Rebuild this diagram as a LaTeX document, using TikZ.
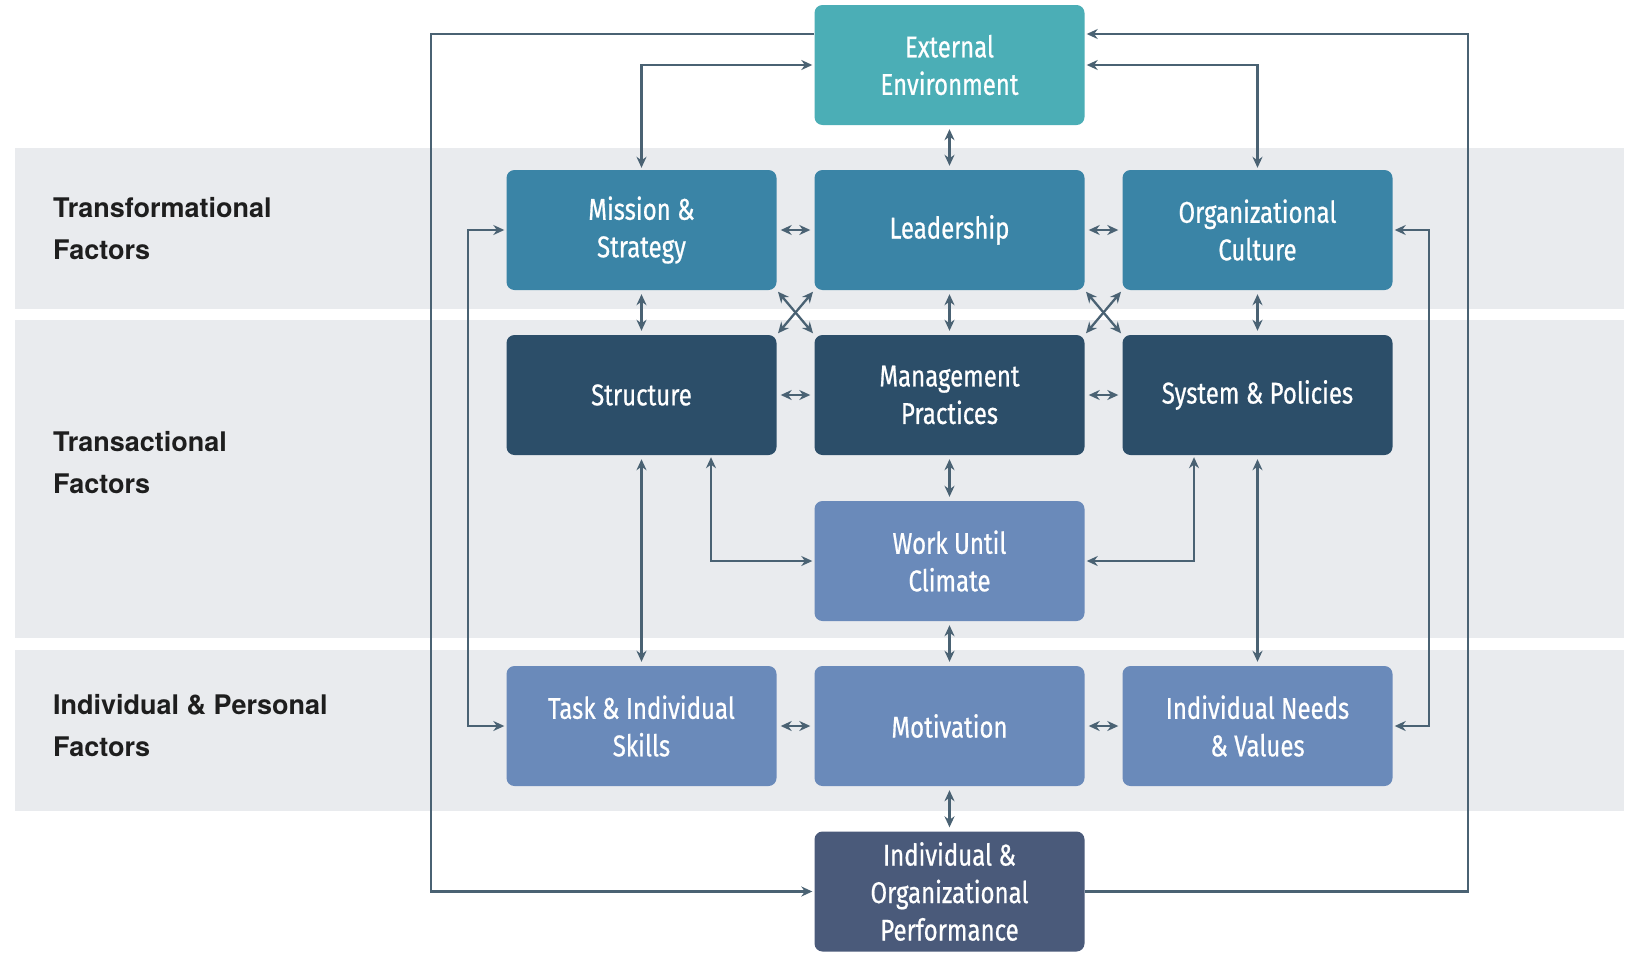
\documentclass[tikz,border=0pt]{standalone}
\usepackage{fontspec}
\usetikzlibrary{arrows.meta}
\newfontfamily\boxfont[FakeStretch=0.8,FakeBold=0.6]{Fira Sans}
\newfontfamily\labfont{TeX Gyre Heros}
\definecolor{bandc}{HTML}{E9EBEE}
\definecolor{extc}{HTML}{4BAEB6}
\definecolor{rowa}{HTML}{3A84A6}
\definecolor{rowb}{HTML}{2C4E69}
\definecolor{rowc}{HTML}{6A8ABA}
\definecolor{perfc}{HTML}{4A5A7A}
\definecolor{linec}{HTML}{4A6273}
\definecolor{labc}{HTML}{1E1E1E}
\tikzset{
  box/.style={rectangle, rounded corners=8pt, minimum width=270pt, minimum height=120pt,
    text=white, align=center, inner sep=0pt, font=\boxfont\fontsize{30}{37.5}\selectfont},
  lab/.style={anchor=west, align=left, text=labc, inner sep=0pt,
    font=\labfont\bfseries\fontsize{27}{42}\selectfont},
  conn/.style={draw=linec, line width=2.3pt},
  bi/.style={conn, <->, shorten >=4pt, shorten <=4pt},
  loopbi/.style={conn, <->, shorten >=2pt, shorten <=2pt},
  loopone/.style={conn, ->, shorten >=2pt},
  diag/.style={conn, <->, shorten >=2pt, shorten <=2pt},
}
\begin{document}
\begin{tikzpicture}[x=1pt, y=-1pt, >={Stealth[length=11pt,width=10pt]}]
\useasboundingbox (0,0) rectangle (1632,953);
\fill[white] (0,0) rectangle (1632,953);
% bands
\fill[bandc] (15,148) rectangle (1624,309);
\fill[bandc] (15,320) rectangle (1624,638);
\fill[bandc] (15,650) rectangle (1624,811);
% labels
\node[lab] (l1) at (53,229) {Transformational\\Factors};
\node[lab] (l2) at (53,463) {Transactional\\Factors};
\node[lab] (l3) at (53,725.5) {Individual \& Personal\\Factors};
% boxes
\node[box, fill=extc]  (ext)   at (949.5,65)   {External\\Environment};
\node[box, fill=rowa]  (mis)   at (641.5,230)  {Mission \&\\Strategy};
\node[box, fill=rowa]  (lead)  at (949.5,230)  {Leadership};
\node[box, fill=rowa]  (cult)  at (1257.5,230) {Organizational\\Culture};
\node[box, fill=rowb]  (str)   at (641.5,395)  {Structure};
\node[box, fill=rowb]  (mgmt)  at (949.5,395)  {Management\\Practices};
\node[box, fill=rowb]  (sys)   at (1257.5,395) {System \& Policies};
\node[box, fill=rowc]  (wc)    at (949.5,561)  {Work Until\\Climate};
\node[box, fill=rowc]  (task)  at (641.5,726)  {Task \& Individual\\Skills};
\node[box, fill=rowc]  (mot)   at (949.5,726)  {Motivation};
\node[box, fill=rowc]  (needs) at (1257.5,726) {Individual Needs\\\& Values};
\node[box, fill=perfc] (perf)  at (949.5,891.5) {Individual \&\\Organizational\\Performance};
% outer loop
\draw[loopone] ([yshift=31pt]ext.west) -| ([xshift=-383.5pt]perf.west) -- (perf.west);
\draw[loopone] (perf.east) -| ([xshift=383pt,yshift=31pt]ext.east) -- ([yshift=31pt]ext.east);
% inner loop
\draw[loopbi] (mis.west) -- ++(-38,0) |- (task.west);
\draw[loopbi] (cult.east) -- ++(36,0) |- (needs.east);
% to external
\draw[loopbi] (mis.north) |- (ext.west);
\draw[loopbi] (cult.north) |- (ext.east);
% work climate links
\draw[loopbi] ([xshift=69.5pt]str.south) |- (wc.west);
\draw[loopbi] ([xshift=-63.5pt]sys.south) |- (wc.east);
% vertical
\draw[bi] (ext.south) -- (lead.north);
\draw[bi] (mis.south) -- (str.north);
\draw[bi] (lead.south) -- (mgmt.north);
\draw[bi] (cult.south) -- (sys.north);
\draw[bi] (mgmt.south) -- (wc.north);
\draw[bi] (wc.south) -- (mot.north);
\draw[bi] (mot.south) -- (perf.north);
\draw[bi] (str.south) -- (task.north);
\draw[bi] (sys.south) -- (needs.north);
% horizontal
\draw[bi] (mis.east) -- (lead.west);
\draw[bi] (lead.east) -- (cult.west);
\draw[bi] (str.east) -- (mgmt.west);
\draw[bi] (mgmt.east) -- (sys.west);
\draw[bi] (task.east) -- (mot.west);
\draw[bi] (mot.east) -- (needs.west);
% diagonals
\draw[diag] (mis.south east) -- (mgmt.north west);
\draw[diag] (lead.south west) -- (str.north east);
\draw[diag] (lead.south east) -- (sys.north west);
\draw[diag] (cult.south west) -- (mgmt.north east);
\end{tikzpicture}
\end{document}
